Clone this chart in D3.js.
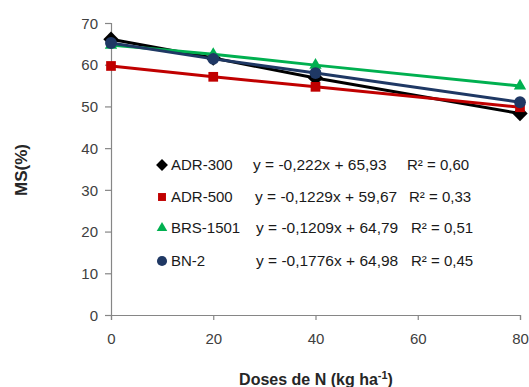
<!DOCTYPE html>
<html>
<head>
<meta charset="utf-8">
<script src="https://cdn.jsdelivr.net/npm/d3@7"></script>
<style>
  body { margin: 0; background: #fff; }
  text { font-family: "Liberation Sans", Arial, sans-serif; }
</style>
</head>
<body>
<div id="chart"></div>
<script>
// doses of N and dry matter values
const doses = [0, 20, 40, 80]
const xTicks = [0, 20, 40, 60, 80]
const yTicks = [0, 10, 20, 30, 40, 50, 60, 70]
const names = ['ADR-300', 'ADR-500', 'BRS-1501', 'BN-2']
const adr300 = [66.1, 61.6, 56.8, 48.3]
const adr500 = [59.7, 57.1, 54.7, 49.8]
const brs1501 = [64.7, 62.5, 59.9, 54.9]
const bn2 = [65.2, 61.4, 58.0, 51.0]
const equations = [
    'y = -0,222x + 65,93',
    'y = -0,1229x + 59,67',
    'y = -0,1209x + 64,79',
    'y = -0,1776x + 64,98'
]
const r2 = ['R² = 0,60', 'R² = 0,33', 'R² = 0,51', 'R² = 0,45']

const width = 529
const height = 387
const colors = ['#000000', '#c00000', '#00b050', '#1f3864']
const symbols = [d3.symbolDiamond2, d3.symbolSquare2, d3.symbolTriangle2, d3.symbolCircle]
const symSize = [150, 120, 110, 110]

const series = [adr300, adr500, brs1501, bn2].map((vals, i) => ({
    name: names[i],
    color: colors[i],
    points: doses.map((d, j) => ({ x: d, y: vals[j] }))
}))

const x = d3.scaleLinear().domain([0, 80]).range([111, 520])
const y = d3.scaleLinear().domain([0, 70]).range([315, 23])

const svg = d3.select('#chart').append('svg')
    .attr('width', width)
    .attr('height', height)

// axes
const axisColor = '#868686'
const xAxis = svg.append('g')
    .attr('transform', 'translate(0,' + y(0) + ')')
    .call(d3.axisBottom(x).tickValues(xTicks).tickSize(5).tickPadding(13))
const yAxis = svg.append('g')
    .attr('transform', 'translate(' + x(0) + ',0)')
    .call(d3.axisLeft(y).tickValues(yTicks).tickSize(6).tickPadding(7))

;[xAxis, yAxis].forEach(a => {
    a.select('.domain').attr('stroke', axisColor).attr('stroke-width', 1.2)
    a.selectAll('.tick line').attr('stroke', axisColor).attr('stroke-width', 1.2)
    a.selectAll('.tick text')
        .attr('fill', '#404040')
        .style('font-size', '15px')
        .style('font-family', '"Liberation Sans", Arial, sans-serif')
})
yAxis.selectAll('.tick text').attr('dy', '0.35em')

// lines
const line = d3.line().x(d => x(d.x)).y(d => y(d.y))
series.forEach((s, i) => {
    svg.append('path')
        .datum(s.points)
        .attr('fill', 'none')
        .attr('stroke', s.color)
        .attr('stroke-width', 3)
        .attr('d', line)
    svg.selectAll('.pt' + i)
        .data(s.points)
        .enter().append('path')
        .attr('transform', d => 'translate(' + x(d.x) + ',' + y(d.y) + ')')
        .attr('d', d3.symbol().type(symbols[i]).size(symSize[i]))
        .attr('fill', s.color)
})

// legend with regression equations
const legend = svg.append('g')
legend.selectAll('g')
    .data(series)
    .enter().append('g')
    .attr('transform', (d, i) => 'translate(0,' + [165, 197, 228, 261][i] + ')')
    .each(function (d, i) {
        const g = d3.select(this)
        g.append('path')
            .attr('transform', 'translate(162,0)')
            .attr('d', d3.symbol().type(symbols[i]).size(i == 0 ? 90 : 80))
            .attr('fill', d.color)
        g.append('text').attr('x', 171).attr('dy', '0.35em')
            .style('font-size', '15px').attr('fill', '#1a1a1a').text(d.name)
        g.append('text').attr('x', [253, 255, 256, 256][i]).attr('dy', '0.35em')
            .style('font-size', '15.5px').attr('fill', '#1a1a1a').text(equations[i])
        g.append('text').attr('x', [407, 409, 411, 411][i]).attr('dy', '0.35em')
            .style('font-size', '15px').attr('fill', '#1a1a1a').text(r2[i])
    })

// axis titles
svg.append('text')
    .attr('transform', 'translate(27,170) rotate(-90)')
    .attr('text-anchor', 'middle')
    .style('font-size', '17px')
    .style('font-weight', 'bold')
    .attr('fill', '#262626')
    .text('MS(%)')

const xt = svg.append('text')
    .attr('x', 316)
    .attr('y', 385)
    .attr('text-anchor', 'middle')
    .style('font-size', '16px')
    .style('font-weight', 'bold')
    .attr('fill', '#262626')
xt.append('tspan').text('Doses de N (kg ha')
xt.append('tspan').attr('dy', -6).style('font-size', '11px').text('-1')
xt.append('tspan').attr('dy', 6).text(')')
</script>
</body>
</html>
